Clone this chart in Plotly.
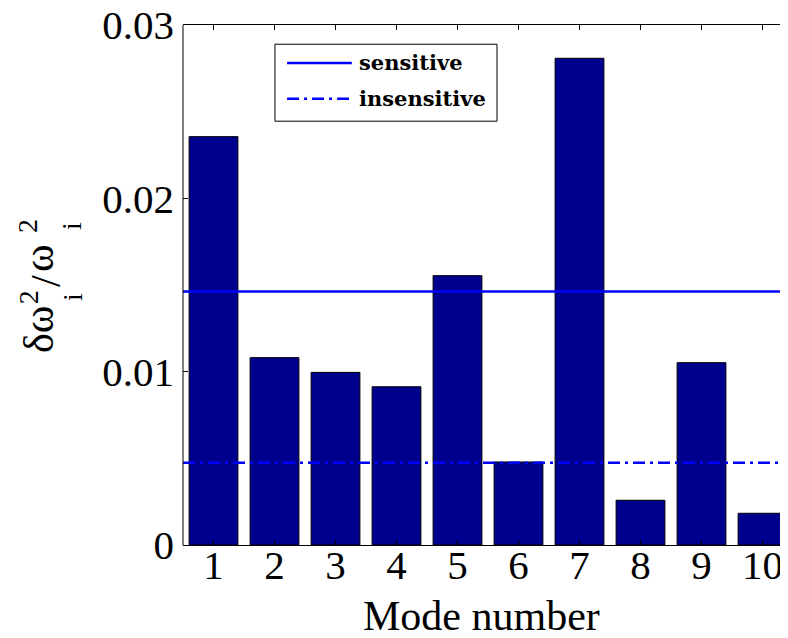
import plotly.graph_objects as go

modes = [1, 2, 3, 4, 5, 6, 7, 8, 9, 10]
ratio = [0.02356, 0.01081, 0.00996, 0.00913, 0.01554, 0.00479, 0.02808, 0.00258, 0.01052, 0.00183]
sensitive_level = 0.01462
insensitive_level = 0.00475
ytick_vals = [0, 0.01, 0.02, 0.03]
ytick_text = ["0", "0.01", "0.02", "0.03"]
xtick_text = [str(m) for m in modes]

BAR = "#00008F"
LINE = "#0000FF"
SERIF = "Liberation Serif, Times New Roman, serif"
DASHDOT = "12px,5px,3px,5px"

fig = go.Figure()
fig.add_trace(go.Bar(x=modes, y=ratio, width=0.8, marker=dict(color=BAR, line=dict(color="black", width=1)),
                     showlegend=False))
x_span = [0.5, 11]
fig.add_trace(go.Scatter(x=x_span, y=[sensitive_level] * 2, mode="lines", name="sensitive",
                         line=dict(color=LINE, width=2.5), showlegend=False))
fig.add_trace(go.Scatter(x=x_span, y=[insensitive_level] * 2, mode="lines", name="insensitive",
                         line=dict(color=LINE, width=2.5, dash=DASHDOT), showlegend=False))


def ytitle_piece(text, x, y, size):
    return dict(xref="paper", yref="paper", x=x, y=y, text=text, showarrow=False, textangle=-90,
                xanchor="center", yanchor="middle", font=dict(size=size, family=SERIF))


fig.update_layout(
    width=780, height=630,
    margin=dict(l=175, r=0, t=17, b=93),
    paper_bgcolor="white", plot_bgcolor="white",
    font=dict(family=SERIF, size=42, color="black"),
    xaxis=dict(range=[0.5, 10.418], tickvals=modes, ticktext=xtick_text, ticks="inside", ticklen=5,
               tickcolor="black", showline=True, linecolor="black", linewidth=1, mirror="ticks",
               showgrid=False, zeroline=False, tickfont=dict(size=41), ticklabelstandoff=-16,
               ticklabeloverflow="allow", automargin=False),
    yaxis=dict(range=[0, 0.03], tickvals=ytick_vals, ticktext=ytick_text, ticks="inside", ticklen=5,
               tickcolor="black", showline=False, mirror="ticks", showgrid=False, zeroline=False,
               tickfont=dict(size=41), ticklabelstandoff=8, ticklabeloverflow="allow", automargin=False),
    shapes=[
        dict(type="line", xref="paper", yref="paper", x0=0, x1=0, y0=0, y1=1, line=dict(color="black", width=1)),
        dict(type="rect", xref="paper", yref="paper", x0=0.152, x1=0.519, y0=0.815, y1=0.963,
             line=dict(color="black", width=1), fillcolor="white"),
        dict(type="line", xref="paper", yref="paper", x0=0.172, x1=0.279, y0=0.927, y1=0.927,
             line=dict(color=LINE, width=2.5)),
        dict(type="line", xref="paper", yref="paper", x0=0.172, x1=0.279, y0=0.858, y1=0.858,
             line=dict(color=LINE, width=2.5, dash=DASHDOT)),
    ],
    annotations=[
        dict(xref="paper", yref="paper", x=0.287, y=0.927, text="<b>sensitive</b>", showarrow=False,
             xanchor="left", yanchor="middle", font=dict(family="DejaVu Serif", size=21)),
        dict(xref="paper", yref="paper", x=0.287, y=0.858, text="<b>insensitive</b>", showarrow=False,
             xanchor="left", yanchor="middle", font=dict(family="DejaVu Serif", size=21)),
        dict(xref="paper", yref="paper", x=0.4926, y=-0.1365, text="Mode number", showarrow=False,
             xanchor="center", yanchor="middle", font=dict(size=42)),
        ytitle_piece("δω", -0.238, 0.4135, 42),
        ytitle_piece("2", -0.256, 0.4769, 28),
        ytitle_piece("i", -0.1835, 0.4769, 28),
        ytitle_piece("/", -0.2264, 0.5077, 42),
        ytitle_piece("ω", -0.238, 0.5519, 42),
        ytitle_piece("2", -0.256, 0.6135, 28),
        ytitle_piece("i", -0.1835, 0.6135, 28),
    ],
)

fig.write_html("out.html")
